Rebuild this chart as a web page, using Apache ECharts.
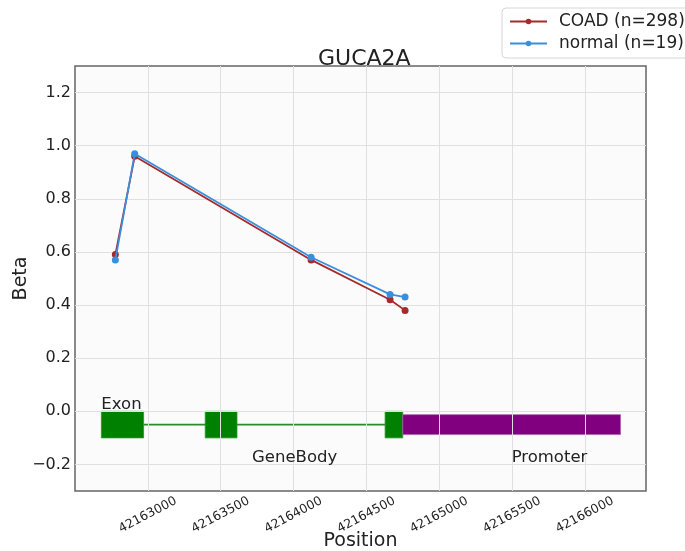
<!DOCTYPE html>
<html>
<head>
<meta charset="utf-8">
<script src="https://cdn.jsdelivr.net/npm/echarts@6/dist/echarts.min.js"></script>
<style>
  html, body { margin: 0; padding: 0; background: #ffffff; }
  #chart { width: 685px; height: 551px; }
</style>
</head>
<body>
<div id="chart"></div>
<script>
// CpG probe positions and mean beta values for GUCA2A
const positions = [42162777, 42162910, 42164121, 42164663, 42164766];
const coadBeta = [0.59, 0.96, 0.57, 0.42, 0.38];
const normalBeta = [0.57, 0.97, 0.58, 0.44, 0.43];

// Gene model
const exonStart = [42162681, 42163394, 42164629];
const exonEnd = [42162971, 42163612, 42164750];
const promoterRange = [42164750, 42166245];

// Axis ticks
const xTicks = [42163000, 42163500, 42164000, 42164500, 42165000, 42165500, 42166000];
const yTicks = [-0.2, 0.0, 0.2, 0.4, 0.6, 0.8, 1.0, 1.2];

const FONT = 'DejaVu Sans';
const geneStart = exonStart[0];
const geneEnd = exonEnd[exonEnd.length - 1];

const chart = echarts.init(document.getElementById('chart'), null, { renderer: 'canvas' });

const pair = (xs, ys) => xs.map((x, i) => [x, ys[i]]);

// gene structure: intron connector, exon blocks, promoter block
const structureData = [];
structureData.push({ value: [exonEnd[0], exonStart[exonStart.length - 1], -0.05, -0.05], kind: 'intron' });
exonStart.forEach((s, i) => structureData.push({ value: [s, exonEnd[i], 0.0, -0.1], kind: 'exon' }));
structureData.push({ value: [promoterRange[0], promoterRange[1], -0.0125, -0.0875], kind: 'promoter' });

// region captions
const captions = [
  { value: [geneStart, 0.0], text: 'Exon' },
  { value: [(geneStart + geneEnd) / 2, -0.2], text: 'GeneBody' },
  { value: [(promoterRange[0] + promoterRange[1]) / 2, -0.2], text: 'Promoter' }
];

const option = {
  backgroundColor: '#ffffff',
  animation: false,
  title: {
    text: 'GUCA2A',
    left: 313,
    top: 43,
    textStyle: { fontFamily: FONT, fontSize: 22, fontWeight: 'normal', color: '#222' }
  },
  legend: {
    left: 502,
    top: 8,
    orient: 'vertical',
    padding: [4, 8, 5, 7],
    itemGap: 3,
    itemWidth: 37,
    itemHeight: 7,
    backgroundColor: '#ffffff',
    borderColor: '#d6d6d6',
    borderWidth: 1,
    borderRadius: 4,
    textStyle: { fontFamily: FONT, fontSize: 17, color: '#222', padding: [0, 0, 0, 7], lineHeight: 19 },
    data: ['COAD (n=298)', 'normal (n=19)']
  },
  grid: {
    left: 75, right: 39, top: 66, bottom: 60,
    outerBoundsMode: 'none',
    containLabel: false,
    show: true,
    backgroundColor: '#fbfbfb',
    borderColor: '#666',
    borderWidth: 1.5
  },
  xAxis: {
    type: 'value',
    min: 42162500,
    max: 42166420,
    z: 2,
    name: 'Position',
    nameLocation: 'middle',
    nameGap: 41,
    nameMoveOverlap: false,
    nameTextStyle: { fontFamily: FONT, fontSize: 19, color: '#222' },
    axisLine: { show: false },
    axisTick: { show: false, customValues: xTicks },
    axisLabel: {
      customValues: xTicks,
      rotate: 28,
      align: 'center',
      verticalAlign: 'middle',
      margin: 24,
      fontFamily: FONT,
      fontSize: 12.5,
      color: '#222',
      formatter: v => String(v)
    },
    splitLine: { show: true, lineStyle: { color: '#e0e0e0', width: 1 } }
  },
  yAxis: {
    type: 'value',
    min: -0.3,
    max: 1.3,
    z: 2,
    name: 'Beta',
    nameLocation: 'middle',
    nameRotate: 90,
    nameGap: 44,
    nameMoveOverlap: false,
    nameTextStyle: { fontFamily: FONT, fontSize: 19, color: '#222' },
    axisLine: { show: false },
    axisTick: { show: false, customValues: yTicks },
    axisLabel: {
      customValues: yTicks,
      margin: 4,
      fontFamily: FONT,
      fontSize: 16,
      color: '#222',
      formatter: v => (v < 0 ? '\u2212' : '') + Math.abs(v).toFixed(1)
    },
    splitLine: { show: true, lineStyle: { color: '#e0e0e0', width: 1 } }
  },
  series: [
    {
      type: 'custom',
      name: 'structure',
      z: 1,
      silent: true,
      data: structureData,
      encode: { x: [0, 1], y: [2, 3] },
      renderItem: (params, api) => {
        const item = structureData[params.dataIndex];
        const p0 = api.coord([api.value(0), api.value(2)]);
        const p1 = api.coord([api.value(1), api.value(3)]);
        if (item.kind === 'intron') {
          return {
            type: 'line',
            shape: { x1: p0[0], y1: p0[1], x2: p1[0], y2: p1[1] },
            style: { stroke: '#2b8a2b', lineWidth: 1.6 }
          };
        }
        const fill = item.kind === 'exon' ? '#008000' : '#800080';
        const edge = item.kind === 'exon' ? '#1f9a1f' : '#b060b0';
        return {
          type: 'rect',
          shape: { x: p0[0], y: p0[1], width: p1[0] - p0[0], height: p1[1] - p0[1] },
          style: { fill: fill, stroke: edge, lineWidth: 0.8 }
        };
      }
    },
    {
      type: 'custom',
      name: 'captions',
      z: 4,
      silent: true,
      data: captions,
      encode: { x: 0, y: 1 },
      renderItem: (params, api) => {
        const c = captions[params.dataIndex];
        const p = api.coord([api.value(0), api.value(1)]);
        return {
          type: 'text',
          x: p[0], y: p[1] + 2,
          style: {
            text: c.text,
            fontFamily: FONT,
            fontSize: 16.5,
            fill: '#222',
            align: 'left',
            verticalAlign: 'bottom'
          }
        };
      }
    },
    {
      type: 'line',
      name: 'COAD (n=298)',
      z: 5,
      data: pair(positions, coadBeta),
      color: '#a52a2a',
      symbol: 'circle',
      symbolSize: 7,
      lineStyle: { width: 1.8, color: '#a52a2a' },
      itemStyle: { color: '#a52a2a' }
    },
    {
      type: 'line',
      name: 'normal (n=19)',
      z: 6,
      data: pair(positions, normalBeta),
      color: '#3a8fdc',
      symbol: 'circle',
      symbolSize: 7,
      lineStyle: { width: 1.8, color: '#3a8fdc' },
      itemStyle: { color: '#3a8fdc' }
    }
  ]
};

chart.setOption(option);
</script>
</body>
</html>
